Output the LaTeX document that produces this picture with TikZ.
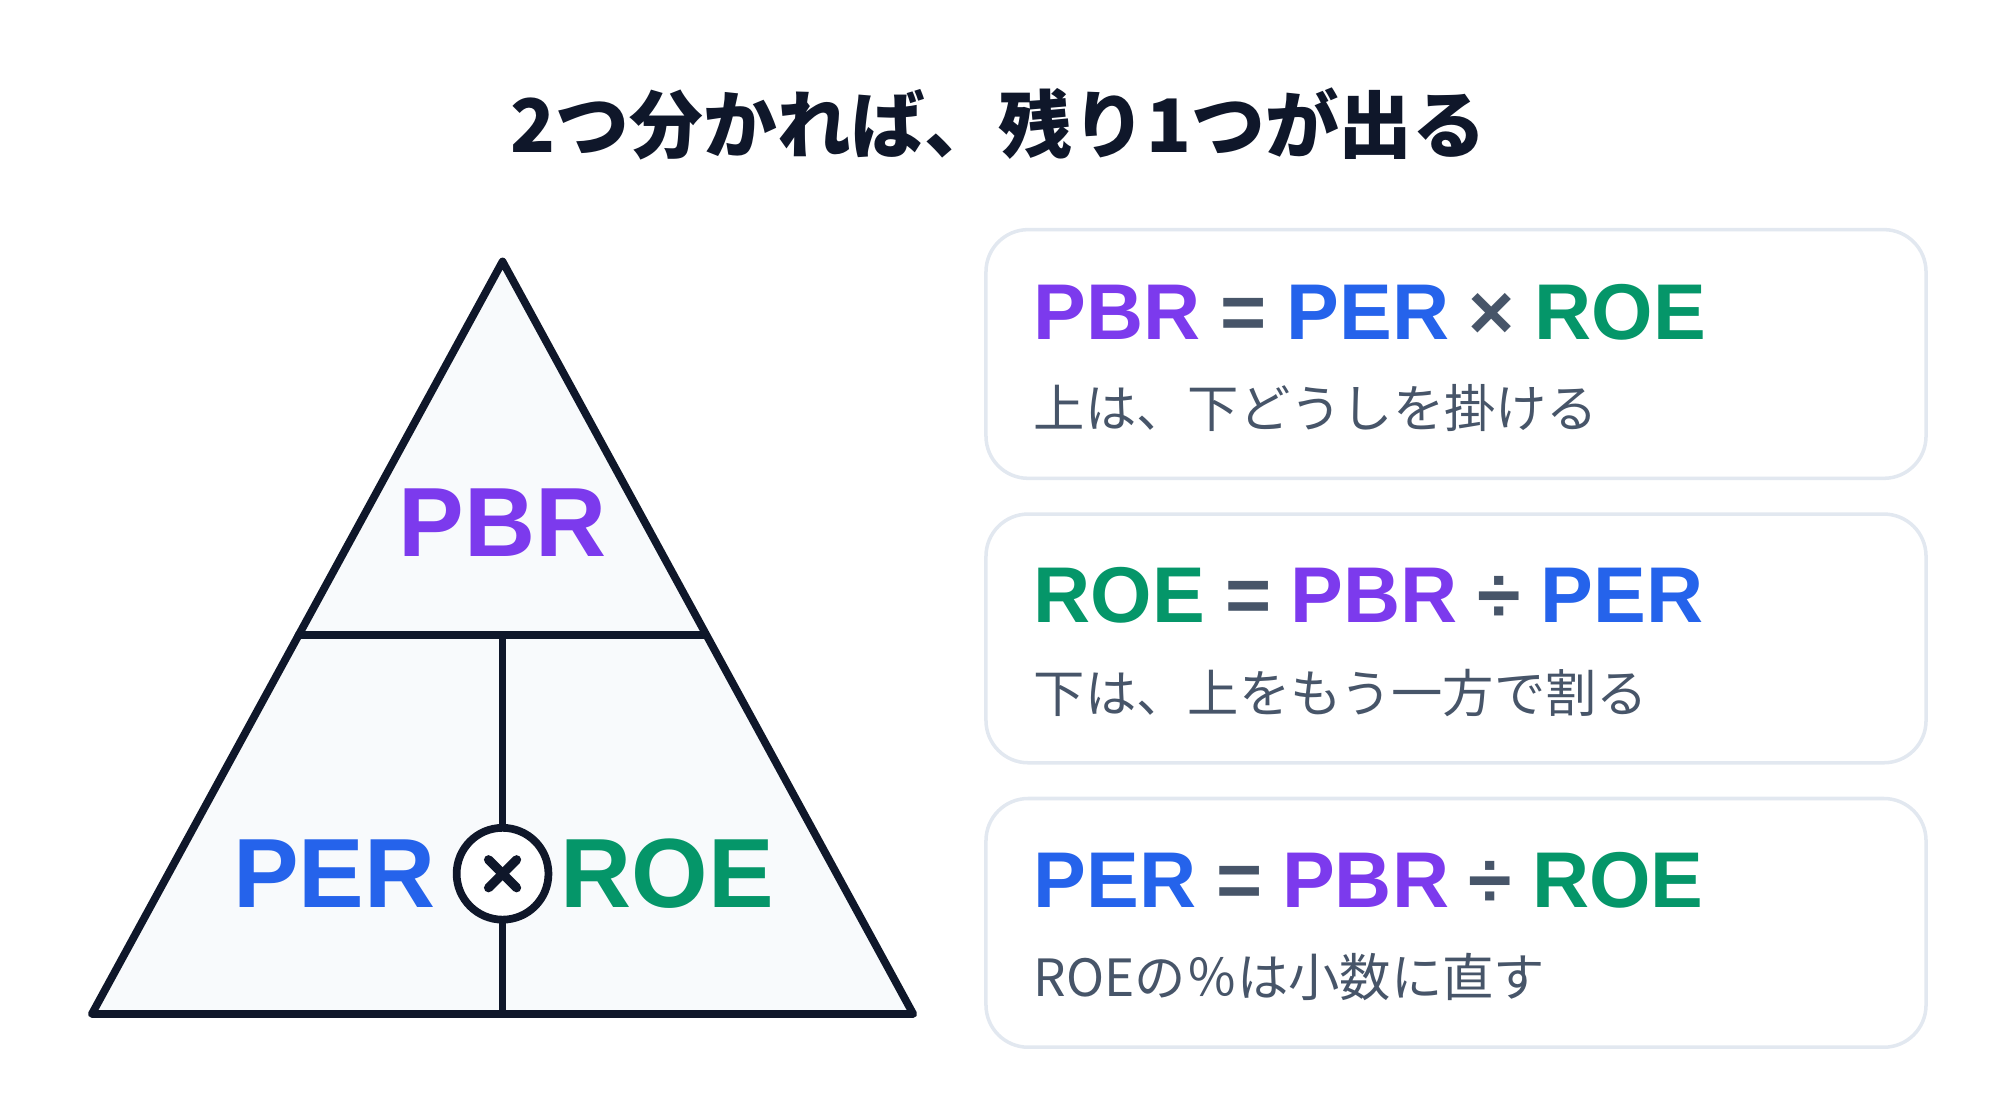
\documentclass[tikz,border=0pt]{standalone}
\usepackage{fontspec}
\setmainfont{Liberation Sans}
\newfontfamily\jp{Noto Sans CJK JP}
\usetikzlibrary{positioning}
\definecolor{ink}{HTML}{0F172A}
\definecolor{pale}{HTML}{F8FAFC}
\definecolor{rim}{HTML}{E2E8F0}
\definecolor{slate}{HTML}{475569}
\definecolor{cpbr}{HTML}{7C3AED}
\definecolor{cper}{HTML}{2563EB}
\definecolor{croe}{HTML}{059669}
\newcommand{\PBR}{\textcolor{cpbr}{PBR}}
\newcommand{\PER}{\textcolor{cper}{PER}}
\newcommand{\ROE}{\textcolor{croe}{ROE}}
\newcommand{\op}[1]{\textcolor{slate}{\hspace{0.25em}#1\hspace{0.25em}}}
\begin{document}
\begin{tikzpicture}[x=0.012755cm, y=-0.012755cm,
    edge/.style={ink, line width=2.2pt, line join=round, line cap=round},
    card/.style={draw=rim, line width=1pt, fill=white, rounded corners=12pt},
    formula/.style={anchor=west, inner sep=0pt, font=\fontsize{22.5}{26}\selectfont\bfseries},
    hint/.style={anchor=west, inner sep=0pt, text=slate, font=\jp\fontsize{14.6}{18}\selectfont},
    big/.style={font=\fontsize{28}{32}\selectfont\bfseries}]
    \useasboundingbox (0,0) rectangle (1568,878);
    % title
    \node[text=ink] (title) at (783,97) {\jp\bfseries\fontsize{21}{25}\selectfont 2つ分かれば、残り1つが出る};

    % triangle corners
    \coordinate (top) at (394,205);
    \coordinate (bl) at (72,795);
    \coordinate (br) at (716,795);
    \coordinate (ml) at (234,498);
    \coordinate (mr) at (553,498);
    \coordinate (mm) at (394,498);
    \coordinate (mb) at (394,795);
    \filldraw[edge, fill=pale] (top) -- (br) -- (bl) -- cycle;
    \draw[edge] (ml) -- (mr);
    \draw[edge] (mm) -- (mb);
    \node[circle, draw=ink, line width=2.2pt, fill=white, minimum size=72*0.3629pt, inner sep=0pt] (times) at (394,685) {};
    \draw[edge, line width=2.6pt] (times.center) ++(-11,-11) -- ++(22,22);
    \draw[edge, line width=2.6pt] (times.center) ++(11,-11) -- ++(-22,22);
    \node[big, text=cpbr] (pbr) at (394,410) {PBR};
    \node[big, text=cper] (per) at (262,685) {PER};
    \node[big, text=croe] (roe) at (523,685) {ROE};

    % cards
    \foreach \y in {180,403,626} \draw[card] (773,\y) rectangle (1510,\y+195);
    \node[formula] (f1) at (810,245) {\PBR\op{=}\PER\op{×}\ROE};
    \node[hint] (h1) at (810,320) {上は、下どうしを掛ける};
    \node[formula] (f2) at (810,467) {\ROE\op{=}\PBR\op{÷}\PER};
    \node[hint] (h2) at (810,543) {下は、上をもう一方で割る};
    \node[formula] (f3) at (810,690) {\PER\op{=}\PBR\op{÷}\ROE};
    \node[hint] (h3) at (810,766) {ROEの％は小数に直す};
\end{tikzpicture}
\end{document}
